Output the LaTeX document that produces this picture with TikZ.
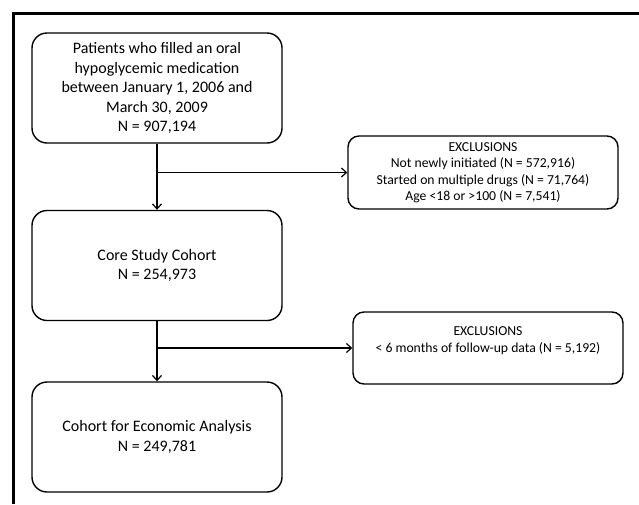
\documentclass[tikz,border=0pt]{standalone}
\usepackage{fontspec}
\setmainfont{Carlito}
\usetikzlibrary{arrows.meta}
\begin{document}
\begin{tikzpicture}[x=1pt,y=-1pt,
  mainbox/.style={draw=black, line width=1.4pt, rounded corners=15pt, minimum width=250pt, minimum height=110pt, inner sep=0pt, align=center, font=\fontsize{16}{19.5}\selectfont},
  exbox/.style={draw=black, line width=1.4pt, rounded corners=11pt, minimum width=270pt, minimum height=73pt, inner sep=0pt, align=center, font=\fontsize{13.7}{16.5}\selectfont},
  conn/.style={line width=1.2pt, -{Straight Barb[length=5pt,width=9pt,line width=1.2pt]}},
  frame/.style={line width=3pt}]
\useasboundingbox (0,0) rectangle (639,504);
\draw[frame] (13.5,504) -- (13.5,13) -- (639,13);
\node[mainbox] (b1) at (157,88) {Patients who filled an oral\\hypoglycemic medication\\between January 1, 2006 and\\March 30, 2009\\N = 907,194};
\node[mainbox] (b2) at (157,265.5) {Core Study Cohort\\N = 254,973};
\node[mainbox] (b3) at (157,437) {Cohort for Economic Analysis\\N = 249,781};
\node[exbox] (e1) at (483,172.5) {EXCLUSIONS\\Not newly initiated (N = 572,916)\\Started on multiple drugs (N = 71,764)\\Age <18 or >100 (N = 7,541)};
\node[exbox, minimum height=72pt] (e2) at (488,348) {EXCLUSIONS\\< 6 months of follow-up data (N = 5,192)\\\mbox{}};
\coordinate (j1) at (b1.south |- e1.west);
\coordinate (j2) at (b2.south |- e2.west);
\draw[conn] (b1.south) -- (b2.north);
\draw[conn] (j1) -- (e1.west);
\draw[conn] (b2.south) -- (b3.north);
\draw[conn] (j2) -- (e2.west);
\end{tikzpicture}
\end{document}
